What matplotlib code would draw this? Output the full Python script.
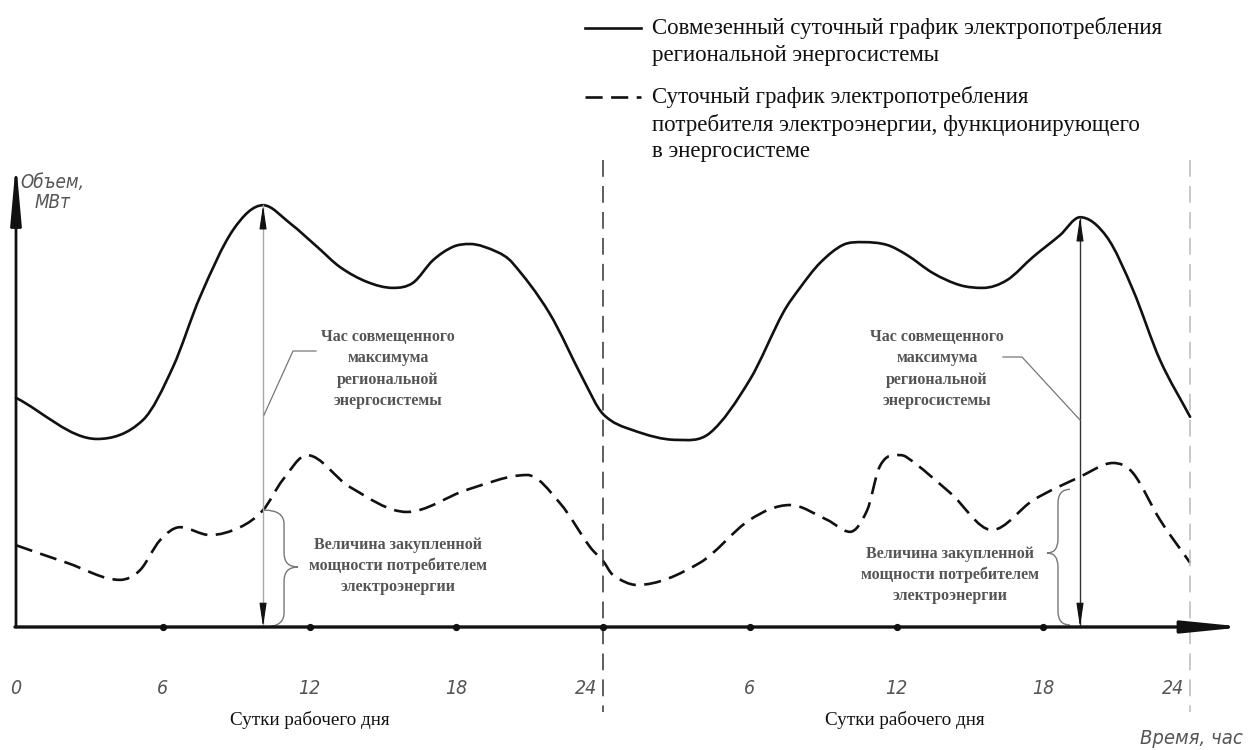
import numpy as np
import matplotlib
matplotlib.use('Agg')
import matplotlib.pyplot as plt
from matplotlib.path import Path
from matplotlib.patches import PathPatch
from matplotlib.lines import Line2D

# ---------------- data ----------------
# combined regional system daily load (two working days, hours 0..48)
system_hours = [0.0, 3.31, 5.19, 6.42, 7.52, 8.87, 10.1, 11.2, 12.31, 13.25, 14.35,
                15.41, 16.23, 17.05, 17.87, 18.56, 19.66, 20.3, 21.8, 23.2, 24.0,
                25.22, 27.02, 28.37, 30.0, 31.36, 32.05, 32.87, 33.81, 34.63,
                35.61, 36.43, 37.49, 38.59, 39.53, 40.52, 41.58, 42.68, 43.5,
                44.6, 45.67, 46.77, 48.0]
system_load = [49.6, 40.7, 44.8, 56.3, 71.4, 85.9, 91.3, 87.4, 82.3, 77.9, 74.7,
               73.4, 74.5, 79.4, 82.3, 82.9, 81.2, 78.8, 68.0, 53.5, 46.1,
               42.6, 40.5, 42.0, 53.5, 68.0, 73.4, 78.8, 82.7, 83.3,
               82.7, 80.5, 76.6, 74.0, 73.4, 75.1, 80.1, 84.8, 88.7,
               84.4, 72.9, 57.8, 45.5]

# consumer daily load
consumer_hours = [0.0, 2.08, 4.25, 5.07, 5.89, 6.7, 7.93, 9.16, 10.1, 10.9, 11.9,
                  13.65, 15.98, 18.44, 20.9, 22.24, 23.47, 24.0, 24.4, 25.39,
                  27.96, 30.0, 31.64, 33.16, 34.1, 34.8, 35.3, 35.9, 36.4, 38.2,
                  39.9, 41.6, 43.5, 44.85, 45.67, 46.77, 48.0]
consumer_load = [17.7, 13.9, 10.2, 12.3, 18.8, 21.6, 19.9, 21.6, 25.3, 31.8, 37.2,
                 30.3, 24.9, 29.7, 32.9, 26.8, 17.3, 14.3, 11.3, 9.1,
                 13.9, 23.2, 26.4, 23.2, 20.6, 25.3, 34.6, 37.2, 36.8, 29.0,
                 21.0, 27.5, 32.5, 35.5, 33.3, 23.2, 13.9]

tick_hours = [0, 6, 12, 18, 24, 30, 36, 42, 48]
tick_labels = ['0', '6', '12', '18', '24', '6', '12', '18', '24']
day_boundaries = [24, 48]
peak_hours = [10.1, 43.5]
peak_values = [91.3, 88.7]
brace_hours = [10.1, 42.6]
brace_values = [25.3, 29.8]

legend_solid = ['Совмезенный суточный график электропотребления',
                'региональной энергосистемы']
legend_dashed = ['Суточный график электропотребления',
                 'потребителя электроэнергии, функционирующего',
                 'в энергосистеме']
peak_text = 'Час совмещенного\nмаксимума\nрегиональной\nэнергосистемы'
brace_text = 'Величина закупленной\nмощности потребителем\nэлектроэнергии'
day_label = 'Сутки рабочего дня'
y_label = ['Объем,', 'МВт']
x_label = 'Время, час'

# ---------------- layout helpers ----------------
W, H = 1248, 750
X0, PXH = 16.0, 24.46     # pixel of hour 0, pixels per hour
Y0, PXV = 627.0, 4.62     # pixel of zero load, pixels per unit

fig = plt.figure(figsize=(W / 100, H / 100), dpi=100)
ax = fig.add_axes([0, 0, 1, 1])
ax.set_xlim(-X0 / PXH, (W - X0) / PXH)
ax.set_ylim((Y0 - H) / PXV, Y0 / PXV)
ax.axis('off')


def hx(px):
    return (px - X0) / PXH


def vy(py):
    return (Y0 - py) / PXV


def to_px(h):
    return X0 + h * PXH


def smooth_path(xs, ys):
    xs = np.asarray(xs, float)
    ys = np.asarray(ys, float)
    n = len(xs)
    m = np.zeros(n)
    for i in range(n):
        if i == 0:
            m[i] = (ys[1] - ys[0]) / (xs[1] - xs[0])
        elif i == n - 1:
            m[i] = (ys[-1] - ys[-2]) / (xs[-1] - xs[-2])
        else:
            d0 = (ys[i] - ys[i - 1]) / (xs[i] - xs[i - 1])
            d1 = (ys[i + 1] - ys[i]) / (xs[i + 1] - xs[i])
            if d0 * d1 <= 0:
                m[i] = 0.0
            else:
                m[i] = (ys[i + 1] - ys[i - 1]) / (xs[i + 1] - xs[i - 1])
    verts = [(xs[0], ys[0])]
    codes = [Path.MOVETO]
    for i in range(n - 1):
        d = xs[i + 1] - xs[i]
        verts += [(xs[i] + d / 3, ys[i] + m[i] * d / 3),
                  (xs[i + 1] - d / 3, ys[i + 1] - m[i + 1] * d / 3),
                  (xs[i + 1], ys[i + 1])]
        codes += [Path.CURVE4] * 3
    return Path(verts, codes)


LW = 1.9
ax.add_patch(PathPatch(smooth_path(system_hours, system_load), fill=False,
                       lw=LW, color='#111111', capstyle='round', joinstyle='round'))
ax.add_patch(PathPatch(smooth_path(consumer_hours, consumer_load), fill=False,
                       lw=LW, color='#111111', linestyle=(0, (6.5, 3.2)),
                       capstyle='butt'))

# day separators
sep_colors = ['#333333', '#bbbbbb']
for b, c in zip(day_boundaries, sep_colors):
    ax.plot([b, b], [vy(160), vy(712)], color=c, lw=1.1,
            linestyle=(0, (11, 6)), zorder=1)

# axes with arrows
head = dict(mutation_scale=7.2, shrinkA=0, shrinkB=0)
ax.annotate('', xy=(hx(16), vy(162)), xytext=(hx(16), vy(627)),
            arrowprops=dict(arrowstyle='-|>,head_length=5.0,head_width=0.45',
                            lw=2.0, color='#111111', **head))
ax.annotate('', xy=(hx(1245), vy(627)), xytext=(hx(15), vy(627)),
            arrowprops=dict(arrowstyle='-|>,head_length=5.0,head_width=0.5',
                            lw=2.4, color='#111111', **head))
ax.plot(tick_hours[1:], [0] * (len(tick_hours) - 1), 'o', ms=4.2,
        color='#111111', zorder=5)

# peak-hour double arrows
line_colors = ['#aaaaaa', '#333333']
for ph, pv, c in zip(peak_hours, peak_values, line_colors):
    ax.plot([ph, ph], [0, pv], color=c, lw=1.0, zorder=2)
    for y_end, y_from in ((pv, pv - 5), (0, 5)):
        ax.annotate('', xy=(ph, y_end), xytext=(ph, y_from),
                    arrowprops=dict(arrowstyle='-|>,head_length=2.0,head_width=0.3',
                                    lw=0.8, color='#111111', **head))

# leader lines for the peak annotations
GRAY = '#777777'
ax.plot([hx(264), hx(293), hx(316)], [vy(415), vy(351), vy(351)],
        color=GRAY, lw=0.9)
ax.plot([hx(1080), hx(1022), hx(1003)], [vy(420), vy(357), vy(357)],
        color=GRAY, lw=0.9)


def brace(x_end_px, x_spine_px, x_tip_px, y_top_px, y_tip_px, y_bot_px, r=10):
    pts = [(x_end_px, y_top_px), (x_spine_px, y_top_px), (x_spine_px, y_top_px + r),
           (x_spine_px, y_tip_px - r), (x_spine_px, y_tip_px), (x_tip_px, y_tip_px),
           (x_spine_px, y_tip_px), (x_spine_px, y_tip_px + r),
           (x_spine_px, y_bot_px - r), (x_spine_px, y_bot_px), (x_end_px, y_bot_px)]
    codes = [Path.MOVETO, Path.CURVE3, Path.CURVE3, Path.LINETO, Path.CURVE3,
             Path.CURVE3, Path.CURVE3, Path.CURVE3, Path.LINETO, Path.CURVE3,
             Path.CURVE3]
    verts = [(hx(x), vy(y)) for x, y in pts]
    ax.add_patch(PathPatch(Path(verts, codes), fill=False, lw=1.0, color=GRAY))


b1x = to_px(brace_hours[0])
b1y = Y0 - brace_values[0] * PXV
brace(b1x + 1, b1x + 21, b1x + 35, b1y, 567, 627, r=14)
b2x = to_px(brace_hours[1])
b2y = Y0 - brace_values[1] * PXV
brace(b2x + 12, b2x, b2x - 11, b2y, 553, 625, r=14)

# ---------------- texts ----------------
SERIF = ['Liberation Serif', 'DejaVu Serif']
NARROW = ['DejaVu Sans']
TICK_KW = dict(style='italic', family=NARROW, stretch='condensed', color='#555555')

for h, lab in zip(tick_hours, tick_labels):
    if lab == '24':
        ax.text(hx(to_px(h) - 6), vy(688), lab, ha='right', va='center',
                fontsize=14, **TICK_KW)
    else:
        ax.text(h, vy(688), lab, ha='center', va='center', fontsize=14,
                **TICK_KW)

for cx in (310, 905):
    ax.text(hx(cx), vy(720), day_label, ha='center', va='center', fontsize=13.8,
            family=SERIF, color='#111111')

ax.text(hx(1243), vy(738), x_label, ha='right', va='center', fontsize=14.5,
        **TICK_KW)
ax.text(hx(52), vy(183), y_label[0], ha='center', va='center', fontsize=13.5,
        **TICK_KW)
ax.text(hx(53), vy(203), y_label[1], ha='center', va='center', fontsize=13.5,
        **TICK_KW)

for cx, cy in ((388, 369), (937, 369)):
    ax.text(hx(cx), vy(cy), peak_text, ha='center', va='center', fontsize=11.5,
            weight='bold', family=SERIF, color='#555555', linespacing=1.45,
            multialignment='center')
for cx, cy in ((398, 566), (950, 575)):
    ax.text(hx(cx), vy(cy), brace_text, ha='center', va='center', fontsize=11.5,
            weight='bold', family=SERIF, color='#555555', linespacing=1.35,
            multialignment='center')

# legend (manual)
fig.add_artist(Line2D([585 / W, 641 / W], [1 - 28 / H, 1 - 28 / H], lw=LW,
                      color='#111111'))
fig.add_artist(Line2D([585 / W, 641 / W], [1 - 97 / H, 1 - 97 / H], lw=LW,
                      color='#111111', linestyle=(0, (6.5, 3.2))))
for txt, y in zip(legend_solid, (28, 55)):
    fig.text(652 / W, 1 - y / H, txt, ha='left', va='center', fontsize=16.5,
             family=SERIF, color='#111111')
for txt, y in zip(legend_dashed, (97, 125, 152)):
    fig.text(652 / W, 1 - y / H, txt, ha='left', va='center', fontsize=16.5,
             family=SERIF, color='#111111')

fig.savefig('out.png', dpi=100)
